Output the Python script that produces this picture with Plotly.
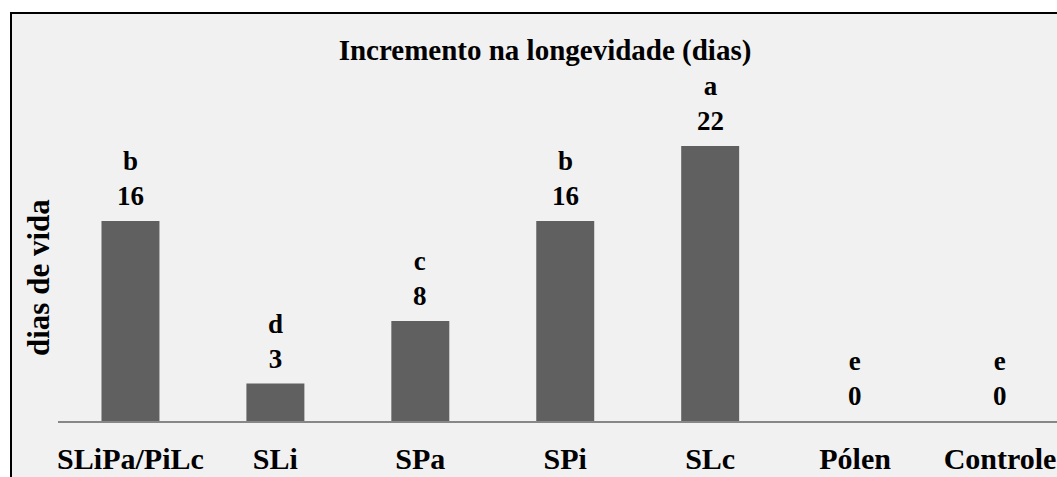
import plotly.graph_objects as go

categories = ["SLiPa/PiLc", "SLi", "SPa", "SPi", "SLc", "Pólen", "Controle"]
values = [16, 3, 8, 16, 22, 0, 0]
letters = ["b", "d", "c", "b", "a", "e", "e"]

title_text = "Incremento na longevidade (dias)"
ytitle_text = "dias de vida"

W, H = 1057, 477
ML, MR, MT, MB = 58, 0, 60, 56
plot_w = W - ML - MR
plot_h = H - MT - MB
ymax = plot_h / 12.5
xmax = (W - 130) / 145.0

SERIF = "Liberation Serif, Times New Roman, serif"

fig = go.Figure()
fig.add_trace(go.Bar(
    x=list(range(len(categories))),
    y=values,
    width=0.4,
    marker=dict(color="#606060", line=dict(width=0)),
    hoverinfo="skip",
))

annotations = []
for i, (v, l) in enumerate(zip(values, letters)):
    annotations.append(dict(
        x=i, y=v, xref="x", yref="y",
        text=f"{l}<br>{v}", showarrow=False,
        yanchor="bottom", yshift=8,
        font=dict(family=SERIF, size=27, color="black", weight="bold"),
    ))

annotations.append(dict(
    x=(38 - ML) / plot_w, y=(H - MB - 278) / plot_h, xref="paper", yref="paper",
    text=ytitle_text, showarrow=False, textangle=-90,
    xanchor="center", yanchor="middle",
    font=dict(family=SERIF, size=31, color="black", weight="bold"),
))

fig.update_layout(
    width=W, height=H,
    margin=dict(l=ML, r=MR, t=MT, b=MB, pad=0),
    paper_bgcolor="white",
    plot_bgcolor="rgba(0,0,0,0)",
    showlegend=False,
    title=dict(
        text=title_text, x=545 / W, y=1 - 50 / H,
        xref="container", yref="container",
        xanchor="center", yanchor="middle",
        font=dict(family=SERIF, size=29, color="black", weight="bold"),
    ),
    xaxis=dict(
        range=[-0.5, xmax],
        tickmode="array",
        tickvals=list(range(len(categories))),
        ticktext=categories,
        showgrid=False, zeroline=False,
        showline=True, linecolor="#878787", linewidth=1.5,
        ticks="", ticklabelstandoff=10,
        automargin=False,
        tickfont=dict(family=SERIF, size=30, color="black", weight="bold"),
        fixedrange=True,
    ),
    yaxis=dict(
        range=[0, ymax],
        showgrid=False, zeroline=False, showline=False,
        showticklabels=False, ticks="",
        automargin=False, fixedrange=True,
    ),
    annotations=annotations,
    shapes=[dict(
        type="rect", xref="paper", yref="paper",
        x0=(11 - ML) / plot_w, x1=1.05,
        y0=-0.3, y1=(H - MB - 13) / plot_h,
        line=dict(color="black", width=2),
        fillcolor="#f1f1f1", layer="below",
    )],
)

fig.write_html(
    "out.html",
    config={"displayModeBar": False},
    post_script="document.body.style.margin='0';document.body.style.overflow='hidden';",
)
